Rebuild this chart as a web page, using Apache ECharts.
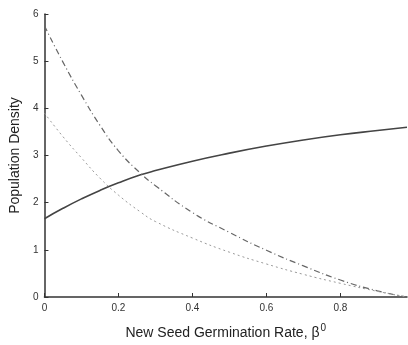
<!DOCTYPE html>
<html>
<head>
<meta charset="utf-8">
<script src="https://cdn.jsdelivr.net/npm/echarts@6/dist/echarts.min.js"></script>
<style>
  html, body { margin: 0; padding: 0; background: #fff; }
  #main { width: 408px; height: 345px; }
</style>
</head>
<body>
<div id="main"></div>
<script>
  // germination rate values (x)
  var rates = [0, 0.05, 0.1, 0.15, 0.2, 0.26, 0.3, 0.4, 0.5, 0.6, 0.7, 0.8, 0.9, 0.98];
  // solid curve
  var solidVals = [1.66, 1.88, 2.08, 2.26, 2.42, 2.59, 2.68, 2.88, 3.05, 3.2, 3.33, 3.44, 3.53, 3.6];
  // dash-dot curve
  var dashVals = [5.75, 4.98, 4.28, 3.64, 3.1, 2.62, 2.36, 1.79, 1.37, 0.99, 0.66, 0.36, 0.13, 0.0];
  // dotted curve
  var dotVals = [3.9, 3.4, 2.95, 2.52, 2.16, 1.8, 1.6, 1.25, 0.95, 0.7, 0.48, 0.29, 0.12, 0.0];

  function pairs(ys) {
    return rates.map(function (x, i) { return [x, ys[i]]; });
  }

  var myChart = echarts.init(document.getElementById('main'));
  var axisCol = '#333';
  var option = {
    backgroundColor: '#fff',
    animation: false,
    grid: { left: 44, top: 14, right: 1, bottom: 46 },
    xAxis: {
      type: 'value',
      min: 0,
      max: 0.98,
      interval: 0.2,
      name: '{t|New Seed Germination Rate, β}{s|0}',
      nameLocation: 'middle',
      nameGap: 26,
      nameTextStyle: {
        rich: {
          t: { fontFamily: 'Liberation Sans', fontSize: 14, color: '#222' },
          s: { fontFamily: 'Liberation Sans', fontSize: 10, color: '#222', verticalAlign: 'top', padding: [0, 0, 10, 1] }
        }
      },
      axisLine: { lineStyle: { color: axisCol, width: 1.5 } },
      axisTick: { inside: true, length: 4, lineStyle: { color: axisCol } },
      axisLabel: {
        showMaxLabel: false,
        color: '#333',
        fontFamily: 'Liberation Sans',
        fontSize: 10,
        margin: 6
      },
      splitLine: { show: false }
    },
    yAxis: {
      type: 'value',
      min: 0,
      max: 6,
      interval: 1,
      name: 'Population Density',
      nameLocation: 'middle',
      nameGap: 22,
      nameTextStyle: { fontFamily: 'Liberation Sans', fontSize: 14, color: '#222' },
      axisLine: { show: true, lineStyle: { color: axisCol, width: 1.5 } },
      axisTick: { show: true, inside: true, length: 4, lineStyle: { color: axisCol } },
      axisLabel: { color: '#333', fontFamily: 'Liberation Sans', fontSize: 10, margin: 6 },
      splitLine: { show: false }
    },
    series: [
      {
        name: 'solid',
        type: 'line',
        smooth: 0.5,
        symbol: 'none',
        lineStyle: { color: '#444', width: 1.6 },
        data: pairs(solidVals)
      },
      {
        name: 'dashdot',
        type: 'line',
        smooth: 0.5,
        symbol: 'none',
        lineStyle: { color: '#666', width: 1.2, type: [6, 3, 1, 3] },
        data: pairs(dashVals)
      },
      {
        name: 'dotted',
        type: 'line',
        smooth: 0.5,
        symbol: 'none',
        lineStyle: { color: '#999', width: 1, type: [2, 3] },
        data: pairs(dotVals)
      }
    ]
  };
  myChart.setOption(option);
</script>
</body>
</html>
